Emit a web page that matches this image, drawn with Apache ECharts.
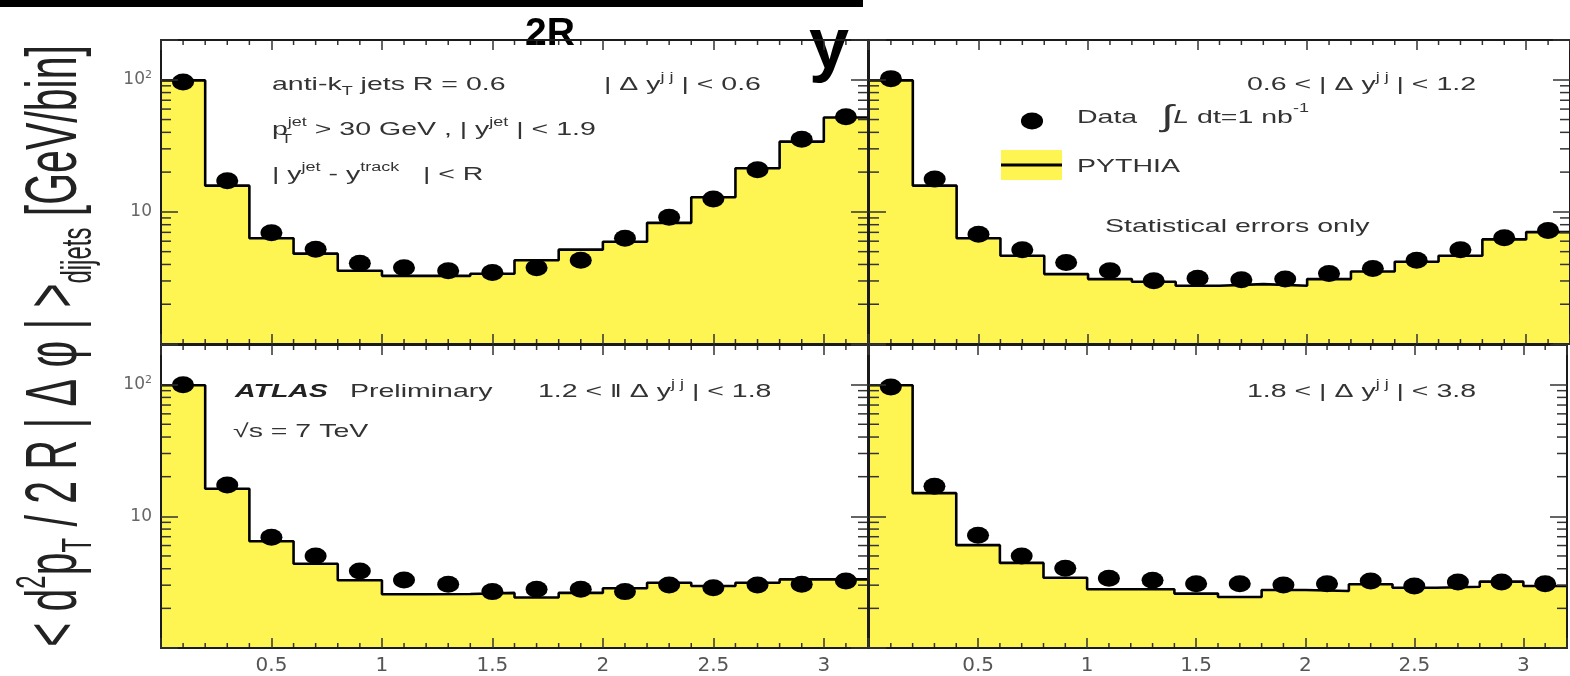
<!DOCTYPE html>
<html>
<head>
<meta charset="utf-8">
<script src="https://cdn.jsdelivr.net/npm/echarts@6.0.0/dist/echarts.min.js"></script>
<style>
html,body{margin:0;padding:0;background:#fff;}
#c{width:1570px;height:676px;}
</style>
</head>
<body>
<div id="c"></div>
<script>
// ---------------- data ----------------
const binCenters = [0.1,0.3,0.5,0.7,0.9,1.1,1.3,1.5,1.7,1.9,2.1,2.3,2.5,2.7,2.9,3.1];
const binEdges   = [0,0.2,0.4,0.6,0.8,1.0,1.2,1.4,1.6,1.8,2.0,2.2,2.4,2.6,2.8,3.0,3.2];
const xTickLabels = ['0.5','1','1.5','2','2.5','3'];
const xMinorTicks = [0.1,0.2,0.3,0.4,0.6,0.7,0.8,0.9,1.1,1.2,1.3,1.4,1.6,1.7,1.8,1.9,2.1,2.2,2.3,2.4,2.6,2.7,2.8,2.9,3.1];
const yMinorTicks = [2,3,4,5,6,7,8,9,20,30,40,50,60,70,80,90];

// |dy| < 0.6
const dataTL = [96, 17.2, 6.95, 5.21, 4.09, 3.77, 3.58, 3.48, 3.77, 4.31, 6.31, 9.12, 12.5, 20.8, 35.4, 52.4];
const mcTL   = [98.9, 15.8, 6.31, 4.83, 3.58, 3.28, 3.28, 3.40, 4.31, 5.18, 5.94, 8.26, 12.9, 21.4, 34.0, 51.8];
// 0.6 < |dy| < 1.2
const dataTR = [102, 17.7, 6.76, 5.16, 4.14, 3.58, 3.01, 3.14, 3.06, 3.10, 3.42, 3.73, 4.31, 5.16, 6.38, 7.24];
const mcTR   = [98.9, 15.8, 6.31, 4.65, 3.38, 3.10, 2.96, 2.76, 2.84, 2.76, 3.10, 3.54, 4.19, 4.65, 6.19, 7.03];
// 1.2 < |dy| < 1.8
const dataBL = [100, 17.3, 6.93, 4.99, 3.84, 3.28, 3.05, 2.68, 2.79, 2.79, 2.68, 3.01, 2.87, 3.01, 3.05, 3.23];
const mcBL   = [98.9, 16.2, 6.47, 4.36, 3.27, 2.56, 2.57, 2.62, 2.42, 2.62, 2.84, 3.13, 2.96, 3.13, 3.32, 3.32];
// 1.8 < |dy| < 3.8
const dataBR = [96, 16.9, 7.18, 4.99, 4.03, 3.38, 3.27, 3.08, 3.08, 3.01, 3.08, 3.23, 2.96, 3.17, 3.17, 3.08];
const mcBR   = [98.9, 15.0, 6.04, 4.43, 3.42, 2.79, 2.79, 2.59, 2.44, 2.76, 2.71, 3.05, 2.87, 2.92, 3.19, 2.96];

// ---------------- layout ----------------
const panels = [
  {data:dataTL, mc:mcTL, left:161, top:40,  width:707, height:304, xl:false, yl:true},
  {data:dataTR, mc:mcTR, left:869, top:40,  width:708, height:304, xl:false, yl:false},
  {data:dataBL, mc:mcBL, left:161, top:345, width:707, height:305, xl:true,  yl:true},
  {data:dataBR, mc:mcBR, left:869, top:345, width:708, height:305, xl:true,  yl:false}
];

const YELLOW = '#fff552';
const FRAME = {color:'#1a1a1a', width:2};
const TICK = {color:'#333', width:1.5};
const FONT = '"Liberation Sans", Arial, Helvetica, sans-serif';

const grids = [], xAxes = [], yAxes = [], series = [];

panels.forEach((p, i) => {
  grids.push({left:p.left, top:p.top, width:p.width, height:p.height, containLabel:false});
  const xBase = {type:'value', gridIndex:i, min:0, max:3.2, interval:0.5, z:10,
    splitLine:{show:false},
    axisLine:{show:true, onZero:false, lineStyle:FRAME},
    axisTick:{show:true, inside:true, length:10, lineStyle:TICK}};
  xAxes.push(Object.assign({}, xBase, {position:'bottom',
    axisLabel:{show:p.xl, margin:8, fontSize:20, fontFamily:'"DejaVu Sans", sans-serif', color:'#555',
      formatter: v => { const s = String(+v.toFixed(2)); return xTickLabels.indexOf(s) >= 0 ? s : ''; }}}));
  xAxes.push(Object.assign({}, xBase, {position:'top', axisLabel:{show:false}}));

  const yBase = {type:'log', logBase:10, gridIndex:i, min:1, max:200, z:10,
    splitLine:{show:false}, minorTick:{show:false},
    axisLine:{show:true, onZero:false, lineStyle:FRAME},
    axisTick:{show:true, inside:true, length:17, lineStyle:TICK}};
  yAxes.push(Object.assign({}, yBase, {position:'left',
    axisLabel:{show:p.yl, margin:9, color:'#666', fontFamily:'"DejaVu Sans", sans-serif', fontSize:17,
      formatter: v => Math.abs(v-100) < 1e-6 ? '{b|10}{s|2}' : (Math.abs(v-10) < 1e-6 ? '{b|10}' : ''),
      rich:{b:{fontSize:17, color:'#666', fontFamily:'"DejaVu Sans", sans-serif', lineHeight:20},
            s:{fontSize:11, color:'#666', fontFamily:'"DejaVu Sans", sans-serif', verticalAlign:'top', lineHeight:12}}}}));
  yAxes.push(Object.assign({}, yBase, {position:'right', axisLabel:{show:false}}));

  const xi = 2*i, yi = 2*i;
  // PYTHIA histogram (step) with yellow fill
  const stepData = binEdges.map((e, k) => [e, p.mc[Math.min(k, p.mc.length-1)]]);
  series.push({type:'line', xAxisIndex:xi, yAxisIndex:yi, step:'end', data:stepData,
    symbol:'none', showSymbol:false, lineStyle:{color:'#000', width:2.6},
    areaStyle:{color:YELLOW, opacity:1, origin:'start'}, z:2, silent:true});
  // minor ticks drawn via axis scales
  const tickData = yMinorTicks.map(v => [0, v, 0]).concat(xMinorTicks.map(v => [v, 1, 1]));
  series.push({type:'custom', xAxisIndex:xi, yAxisIndex:yi, data:tickData, z:3, silent:true, clip:false,
    renderItem: (params, api) => {
      const cs = params.coordSys;
      const kind = api.value(2);
      const st = {stroke:TICK.color, lineWidth:TICK.width};
      if (kind === 0) {
        const py = api.coord([0, api.value(1)])[1];
        return {type:'group', children:[
          {type:'line', shape:{x1:cs.x, y1:py, x2:cs.x+10, y2:py}, style:st},
          {type:'line', shape:{x1:cs.x+cs.width, y1:py, x2:cs.x+cs.width-10, y2:py}, style:st}
        ]};
      }
      const px = api.coord([api.value(0), 1])[0];
      return {type:'group', children:[
        {type:'line', shape:{x1:px, y1:cs.y+cs.height, x2:px, y2:cs.y+cs.height-5}, style:st},
        {type:'line', shape:{x1:px, y1:cs.y, x2:px, y2:cs.y+5}, style:st}
      ]};
    }});
  // data points
  series.push({type:'scatter', xAxisIndex:xi, yAxisIndex:yi,
    data:binCenters.map((c, k) => [c, p.data[k]]),
    symbol:'circle', symbolSize:[22,17], itemStyle:{color:'#000', opacity:1}, z:5, silent:true});
});

// ---------------- annotations ----------------
const SX = 1.5;
const RICH = {
  sup:{fontSize:12, verticalAlign:'top', lineHeight:13, fill:'#333', fontFamily:FONT},
  sub:{fontSize:12, verticalAlign:'bottom', lineHeight:13, fill:'#333', fontFamily:FONT},
  int:{fontSize:30, fill:'#333', fontFamily:FONT, lineHeight:30},
  lit:{fontSize:19, fontStyle:'italic', fill:'#333', fontFamily:FONT}
};
function T(x, y, text, o) {
  o = o || {};
  return {type:'text', x:x, y:y, scaleX:(o.sx || SX), z:50, silent:true,
    style:{text:text, fill:(o.fill || '#333'), fontFamily:FONT, fontSize:(o.fs || 19),
      fontWeight:(o.fw || 'normal'), fontStyle:(o.fst || 'normal'),
      align:'left', verticalAlign:'middle', lineHeight:26, rich:RICH}};
}

const graphic = [
  // top black bar and stray bold letters
  {type:'rect', x:0, y:0, shape:{x:0, y:0, width:863, height:7}, style:{fill:'#000'}, z:1, silent:true},
  {type:'text', x:525, y:34, z:1, silent:true,
    style:{text:'2R', fill:'#000', fontFamily:FONT, fontSize:39, fontWeight:'bold', align:'left', verticalAlign:'middle'}},
  {type:'text', x:809, y:48, z:1, silent:true,
    style:{text:'y', fill:'#000', fontFamily:FONT, fontSize:72, fontWeight:'bold', align:'left', verticalAlign:'middle'}},

  // y axis title
  {type:'text', x:56, y:346, rotation:Math.PI/2, scaleX:1.14, scaleY:2.0, z:50, silent:true,
    style:{text:'< d{sup|2}p{sub|T} / 2 R | Δ φ | >{sub|dijets} [GeV/bin]', fill:'#222', fontFamily:FONT,
      fontSize:36, align:'center', verticalAlign:'middle', lineHeight:44,
      rich:{sup:{fontSize:21, verticalAlign:'top', lineHeight:22, fill:'#222', fontFamily:FONT},
            sub:{fontSize:21, verticalAlign:'bottom', lineHeight:22, fill:'#222', fontFamily:FONT}}}},

  // top-left panel
  T(272, 85, 'anti-k{sub|T} jets R = 0.6'),
  T(604, 85, '| Δ y{sup|j j} | < 0.6'),
  T(272, 130, 'p{sup|jet} > 30 GeV , | y{sup|jet} | < 1.9'),
  T(281, 140, 'T', {fs:12}),
  T(272, 175, '| y{sup|jet} - y{sup|track}   | < R'),

  // top-right panel
  T(1247, 85, '0.6 < | Δ y{sup|j j} | < 1.2'),
  {type:'circle', x:1032, y:121, scaleX:1.3, shape:{cx:0, cy:0, r:8.5}, style:{fill:'#000'}, z:50, silent:true},
  T(1077, 118, 'Data   {int|∫}{lit|L} dt=1 nb{sup|-1}'),
  {type:'rect', x:1001, y:150, shape:{x:0, y:0, width:61, height:30}, style:{fill:YELLOW}, z:50, silent:true},
  {type:'line', shape:{x1:1001, y1:165, x2:1062, y2:165}, style:{stroke:'#000', lineWidth:3}, z:51, silent:true},
  T(1077, 167, 'PYTHIA'),
  T(1105, 227, 'Statistical errors only'),

  // bottom-left panel
  T(235, 392, 'ATLAS', {fw:'bold', fst:'italic', fill:'#222'}),
  T(350, 392, 'Preliminary'),
  T(538, 392, '1.2 < ‖ Δ y{sup|j j} | < 1.8'),
  T(233, 432, '√s = 7 TeV'),

  // bottom-right panel
  T(1247, 392, '1.8 < | Δ y{sup|j j} | < 3.8')
];

const chart = echarts.init(document.getElementById('c'), null, {renderer:'canvas', width:1570, height:676});
chart.setOption({
  animation:false,
  backgroundColor:'#fff',
  grid:grids, xAxis:xAxes, yAxis:yAxes, series:series, graphic:graphic
});
</script>
</body>
</html>
